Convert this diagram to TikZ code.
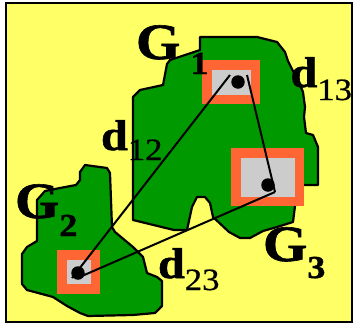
\documentclass[tikz,border=0pt]{standalone}
\usepackage{fontspec}
\setmainfont{Liberation Serif}[BoldFeatures={FakeBold=1.2}]
\newfontfamily\subfont{Liberation Serif}[FakeBold=0.6]
\definecolor{bgyellow}{RGB}{255,255,102}
\definecolor{regiongreen}{RGB}{0,153,0}
\definecolor{sqorange}{RGB}{255,102,51}
\definecolor{sqgray}{RGB}{204,204,204}
\newcommand\Glabel[3]{\scalebox{1.12}[1]{\fontsize{51}{51}\selectfont\bfseries G\kern#3\raisebox{-#2}{\fontsize{32}{32}\selectfont #1}}}
\newcommand\Dlabel[2]{\scalebox{1.12}[1]{\fontsize{43}{43}\selectfont\textbf{d}\raisebox{-#2}{\subfont\fontsize{31}{31}\selectfont #1}}}
\tikzset{
  region/.style={fill=regiongreen, draw=black, line width=2.2pt, line join=round},
  link/.style={draw=black, line width=2pt},
  dotnode/.style={circle, fill=black, inner sep=0pt, minimum size=13.5pt},
  lab/.style={anchor=base west, inner sep=0pt, outer sep=0pt}
}
\begin{document}
\begin{tikzpicture}[x=1pt,y=-1pt]
\useasboundingbox (0,0) rectangle (354,327);
\fill[white] (0,0) rectangle (354,327);
\draw[fill=bgyellow, line width=2pt] (6,3) rectangle (352,322);
% region G1
\draw[region] (200,37) -- (257,37) -- (277,42) -- (285,52) -- (288,61) -- (300,85) -- (303,92) -- (305,107) -- (304,117) -- (306,133) -- (313,135) -- (318,147) -- (318,185) -- (303,185) -- (295,206) -- (293,222) -- (277,227) -- (263,231) -- (250,238) -- (240,238) -- (229,232) -- (213,217) -- (210,203) -- (205,197) -- (197,197) -- (192,207) -- (187,230) -- (174,230) -- (133,220) -- (133,97) -- (140,90) -- (163,85) -- (167,64) -- (170,60) -- (200,50) -- cycle;
% region G2
\draw[region] (85,165) -- (107,168) -- (110,173) -- (112,227) -- (115,232) -- (133,247) -- (143,257) -- (147,273) -- (157,277) -- (162,281) -- (162,306) -- (155,313) -- (133,315) -- (88,316) -- (80,313) -- (67,306) -- (53,297) -- (27,290) -- (22,284) -- (22,254) -- (27,247) -- (37,241) -- (37,200) -- (45,191) -- (60,188) -- (76,185) -- (80,180) -- (80,172) -- cycle;
% squares
\fill[sqorange] (202,60) rectangle (260,104);
\fill[sqgray] (212,70) rectangle (251,95);
\fill[sqorange] (231,148) rectangle (304,206);
\fill[sqgray] (241,158) rectangle (295,197);
\fill[sqorange] (57,250) rectangle (100,294);
\fill[sqgray] (67,260) rectangle (91,284);
% line ends
\coordinate (e12a) at (72,278);
\coordinate (e12b) at (230,75);
\coordinate (e13a) at (247,75);
\coordinate (e13b) at (275,192);
\coordinate (e23a) at (82,276);
\coordinate (e23b) at (275,192);
\draw[link] (e12a) -- (e12b);
\draw[link] (e13a) -- (e13b);
\draw[link] (e23a) -- (e23b);
% dots
\node[dotnode] (c1) at (238,82) {};
\node[dotnode] (c3) at (268,185) {};
\node[dotnode] (c2) at (78,273) {};
% labels
\node[lab] (G1) at (136,59) {\Glabel{1}{15pt}{9pt}};
\node[lab] (G2) at (15,218) {\Glabel{2}{18pt}{0pt}};
\node[lab] (G3) at (263,261) {\Glabel{3}{17pt}{0pt}};
\node[lab] (d13) at (290.5,87) {\Dlabel{13}{13pt}};
\node[lab] (d12) at (101,150) {\Dlabel{12}{10pt}};
\node[lab] (d23) at (158,278) {\Dlabel{23}{12pt}};
\end{tikzpicture}
\end{document}
